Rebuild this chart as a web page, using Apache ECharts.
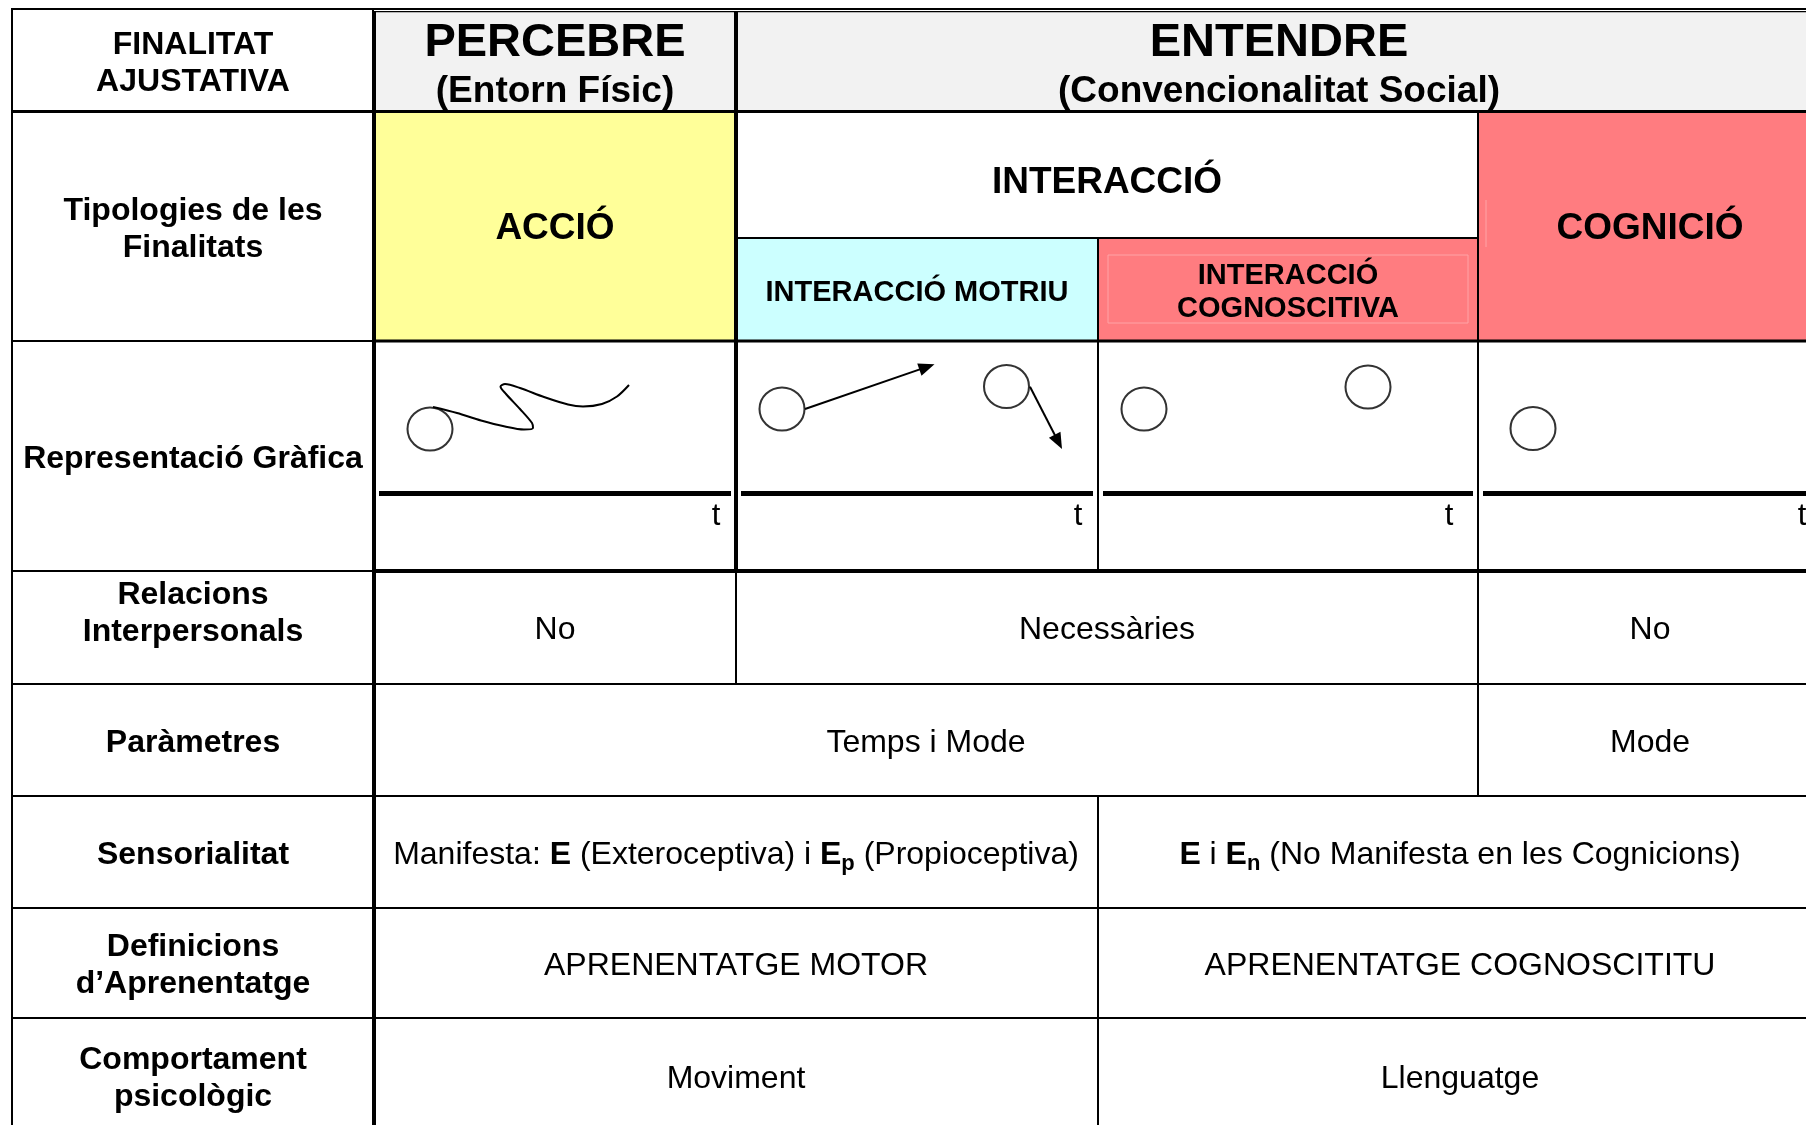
<!DOCTYPE html>
<html><head><meta charset="utf-8">
<script src="https://cdn.jsdelivr.net/npm/echarts@6/dist/echarts.min.js"></script>
<style>html,body{margin:0;padding:0;background:#fff;overflow:hidden}#c{width:1806px;height:1125px}</style>
</head><body><div id="c"></div>
<script>
// ---------------- data (texts and sketch marks) ----------------
const rowLabels = ['FINALITAT\nAJUSTATIVA', 'Tipologies de les\nFinalitats', 'Representació Gràfica',
  'Relacions\nInterpersonals', 'Paràmetres', 'Sensorialitat', 'Definicions\nd’Aprenentatge', 'Comportament\npsicològic'];
const headerTitles = ['PERCEBRE', 'ENTENDRE'];
const headerSubtitles = ['(Entorn Físic)', '(Convencionalitat Social)'];
const typologies = ['ACCIÓ', 'INTERACCIÓ', 'INTERACCIÓ MOTRIU', 'INTERACCIÓ\nCOGNOSCITIVA', 'COGNICIÓ'];
const relacions = ['No', 'Necessàries', 'No'];
const parametres = ['Temps i Mode', 'Mode'];
const sensorialitat = ['Manifesta: {b|E} (Exteroceptiva) i {b|E}{s|p} (Propioceptiva)',
  '{b|E} i {b|E}{s|n} (No Manifesta en les Cognicions)'];
const definicions = ['APRENENTATGE MOTOR', 'APRENENTATGE COGNOSCITITU'];
const comportament = ['Moviment', 'Llenguatge'];
const timeLabel = 't';
// sketch marks (in canvas units of the hidden axes)
const circles = [[430, 429], [782, 409], [1006.5, 386.5], [1144, 409], [1368, 387], [1533, 428.5]];
const wave = [[433, 407], [457, 413], [481, 420.5], [505, 426.5], [524, 429.5], [533, 428], [532, 423],
  [520, 409], [506, 394], [500.5, 386.5], [505, 384], [520, 388], [544, 397], [568, 404.5],
  [583, 406.5], [602, 404], [617, 396.5], [629, 385]];
const arrows = [[805, 409, 934.5, 364.3], [1030, 386.7, 1062, 449]];

// ---------------- layout ----------------
const colEdges = [12, 374, 736, 1098, 1478, 1822];
const rowEdges = [9, 111.5, 238, 341, 571, 684, 796, 908, 1018, 1134];
const axisLineY = 493.5, tLabelY = 516.5, textShift = 3;
const FONT = '"Liberation Sans", Arial, Helvetica, sans-serif';
const FILLS = { white: '#ffffff', gray: '#f2f2f2', yellow: '#ffff99', cyan: '#ccffff', red: '#ff7c80' };

const cells = [];
function addCell(c0, c1, r0, r1, fill, text, kind, dy, tOff) {
  cells.push({ c0, c1, r0, r1, fill, text, kind, dy: dy || 0, tOff: tOff || 20 });
}
const labelRows = [[0, 1], [1, 3], [3, 4], [4, 5], [5, 6], [6, 7], [7, 8], [8, 9]];
labelRows.forEach((rr, i) => addCell(0, 1, rr[0], rr[1], 'white', rowLabels[i], 'label', i === 3 ? -17 : 0));
addCell(1, 2, 0, 1, 'gray', '{t|' + headerTitles[0] + '}\n{s|' + headerSubtitles[0] + '}', 'header', 4);
addCell(2, 5, 0, 1, 'gray', '{t|' + headerTitles[1] + '}\n{s|' + headerSubtitles[1] + '}', 'header', 4);
addCell(1, 2, 1, 3, 'yellow', typologies[0], 'type');
addCell(2, 4, 1, 2, 'white', typologies[1], 'type', 5);
addCell(2, 3, 2, 3, 'cyan', typologies[2], 'sub');
addCell(3, 4, 2, 3, 'red', typologies[3], 'sub');
addCell(4, 5, 1, 3, 'red', typologies[4], 'type');
[20, 20, 29, 20].forEach((off, i) => addCell(1 + i, 2 + i, 3, 4, 'white', timeLabel, 'sketch', 0, off));
addCell(1, 2, 4, 5, 'white', relacions[0], 'body');
addCell(2, 4, 4, 5, 'white', relacions[1], 'body');
addCell(4, 5, 4, 5, 'white', relacions[2], 'body');
addCell(1, 4, 5, 6, 'white', parametres[0], 'body');
addCell(4, 5, 5, 6, 'white', parametres[1], 'body');
addCell(1, 3, 6, 7, 'white', sensorialitat[0], 'body');
addCell(3, 5, 6, 7, 'white', sensorialitat[1], 'body');
addCell(1, 3, 7, 8, 'white', definicions[0], 'body');
addCell(3, 5, 7, 8, 'white', definicions[1], 'body');
addCell(1, 3, 8, 9, 'white', comportament[0], 'body');
addCell(3, 5, 8, 9, 'white', comportament[1], 'body');

// heavier rules drawn over the cell grid: [x1, y1, x2, y2, width, color]
const rules = [
  [374, 9, 374, 1134, 4, '#000'],
  [736, 9, 736, 571, 4, '#000'],
  [12, 111.5, 1822, 111.5, 3, '#000'],
  [374, 341, 1822, 341, 3, '#000'],
  [374, 571, 1822, 571, 4, '#000'],
  [374, 10.5, 1822, 10.5, 1, '#fff'],
  [374, 11.7, 1822, 11.7, 1.2, '#000'],
  [1108, 255, 1468, 255, 1, '#ffa3a6'],
  [1108, 323, 1468, 323, 1, '#ffa3a6'],
  [1108, 255, 1108, 323, 1, '#ffa3a6'],
  [1468, 255, 1468, 323, 1, '#ffa3a6'],
  [1486, 200, 1486, 247, 1, '#ffa3a6']
];

const TEXT_STYLES = {
  label: { fontSize: 32, fontWeight: 'bold', lineHeight: 37 },
  type: { fontSize: 37, fontWeight: 'bold', lineHeight: 42 },
  sub: { fontSize: 29, fontWeight: 'bold', lineHeight: 33 },
  body: { fontSize: 32, fontWeight: 'normal', lineHeight: 40 },
  header: { fontSize: 37, fontWeight: 'bold', lineHeight: 48 },
  sketch: { fontSize: 31, fontWeight: 'normal', lineHeight: 36 }
};
const RICH = {
  t: { fontFamily: FONT, fontSize: 47, fontWeight: 'bold', lineHeight: 50, fill: '#000' },
  s: { fontFamily: FONT, fontSize: 37, fontWeight: 'bold', lineHeight: 48, fill: '#000' }
};
const RICH_BODY = {
  b: { fontFamily: FONT, fontSize: 32, fontWeight: 'bold', lineHeight: 40, fill: '#000' },
  s: { fontFamily: FONT, fontSize: 22, fontWeight: 'bold', lineHeight: 22, verticalAlign: 'bottom', fill: '#000' }
};

function renderCell(params, api) {
  const c = cells[params.dataIndex];
  const p0 = api.coord([colEdges[c.c0], rowEdges[c.r0]]);
  const p1 = api.coord([colEdges[c.c1], rowEdges[c.r1]]);
  const x = p0[0], y = p0[1], w = p1[0] - p0[0], h = p1[1] - p0[1];
  const children = [{ type: 'rect', shape: { x, y, width: w, height: h },
    style: { fill: FILLS[c.fill], stroke: '#000', lineWidth: 2 } }];
  const ts = TEXT_STYLES[c.kind];
  const base = { fontFamily: FONT, fontSize: ts.fontSize, fontWeight: ts.fontWeight, lineHeight: ts.lineHeight,
    fill: '#000', align: 'center', verticalAlign: 'middle' };
  if (c.kind === 'sketch') {
    const ay = api.coord([0, axisLineY])[1];
    children.push({ type: 'line', shape: { x1: x + 5, y1: ay, x2: x + w - 5, y2: ay },
      style: { stroke: '#000', lineWidth: 5 } });
    children.push({ type: 'text', style: Object.assign({}, base,
      { text: c.text, x: x + w - c.tOff, y: api.coord([0, tLabelY])[1] }) });
  } else {
    const st = Object.assign({}, base, { text: c.text, x: x + w / 2, y: y + h / 2 + c.dy + textShift });
    if (c.kind === 'header') st.rich = RICH;
    if (c.kind === 'body') st.rich = RICH_BODY;
    children.push({ type: 'text', style: st });
  }
  return { type: 'group', children };
}

function renderRule(params, api) {
  const r = rules[params.dataIndex];
  const a = api.coord([r[0], r[1]]), b = api.coord([r[2], r[3]]);
  return { type: 'line', shape: { x1: a[0], y1: a[1], x2: b[0], y2: b[1] },
    style: { stroke: r[5], lineWidth: r[4] } };
}

function renderArrow(params, api) {
  const a = arrows[params.dataIndex];
  const p1 = api.coord([a[0], a[1]]), p2 = api.coord([a[2], a[3]]);
  const dx = p2[0] - p1[0], dy = p2[1] - p1[1], L = Math.hypot(dx, dy);
  const ux = dx / L, uy = dy / L, hl = 16, hw = 6.5;
  const bx = p2[0] - ux * hl, by = p2[1] - uy * hl;
  return { type: 'group', children: [
    { type: 'line', shape: { x1: p1[0], y1: p1[1], x2: bx + ux * 2, y2: by + uy * 2 },
      style: { stroke: '#000', lineWidth: 2 } },
    { type: 'polygon', shape: { points: [[p2[0], p2[1]], [bx - uy * hw, by + ux * hw], [bx + uy * hw, by - ux * hw]] },
      style: { fill: '#000' } }
  ] };
}

const chart = echarts.init(document.getElementById('c'), null, { renderer: 'canvas', width: 1806, height: 1125 });
chart.setOption({
  animation: false,
  backgroundColor: '#ffffff',
  grid: { left: 0, right: 0, top: 0, bottom: 0, containLabel: false, outerBoundsMode: 'none' },
  xAxis: { type: 'value', min: 0, max: 1806, show: false },
  yAxis: { type: 'value', min: 0, max: 1125, inverse: true, show: false },
  tooltip: { show: false },
  series: [
    { type: 'custom', name: 'cells', z: 1, silent: true, renderItem: renderCell,
      data: cells.map(c => [colEdges[c.c0], rowEdges[c.r0]]) },
    { type: 'custom', name: 'rules', z: 2, silent: true, renderItem: renderRule,
      data: rules.map(r => [r[0], r[1]]) },
    { type: 'line', name: 'wave', z: 3, silent: true, smooth: 0.3, symbol: 'none',
      lineStyle: { color: '#000', width: 2 }, data: wave },
    { type: 'scatter', name: 'circles', z: 4, silent: true, symbol: 'circle', symbolSize: [45, 43],
      itemStyle: { color: 'rgba(0,0,0,0)', borderColor: '#000', borderWidth: 2 }, data: circles },
    { type: 'custom', name: 'arrows', z: 4, silent: true, renderItem: renderArrow,
      data: arrows.map(a => [a[0], a[1]]) }
  ]
});
</script></body></html>
